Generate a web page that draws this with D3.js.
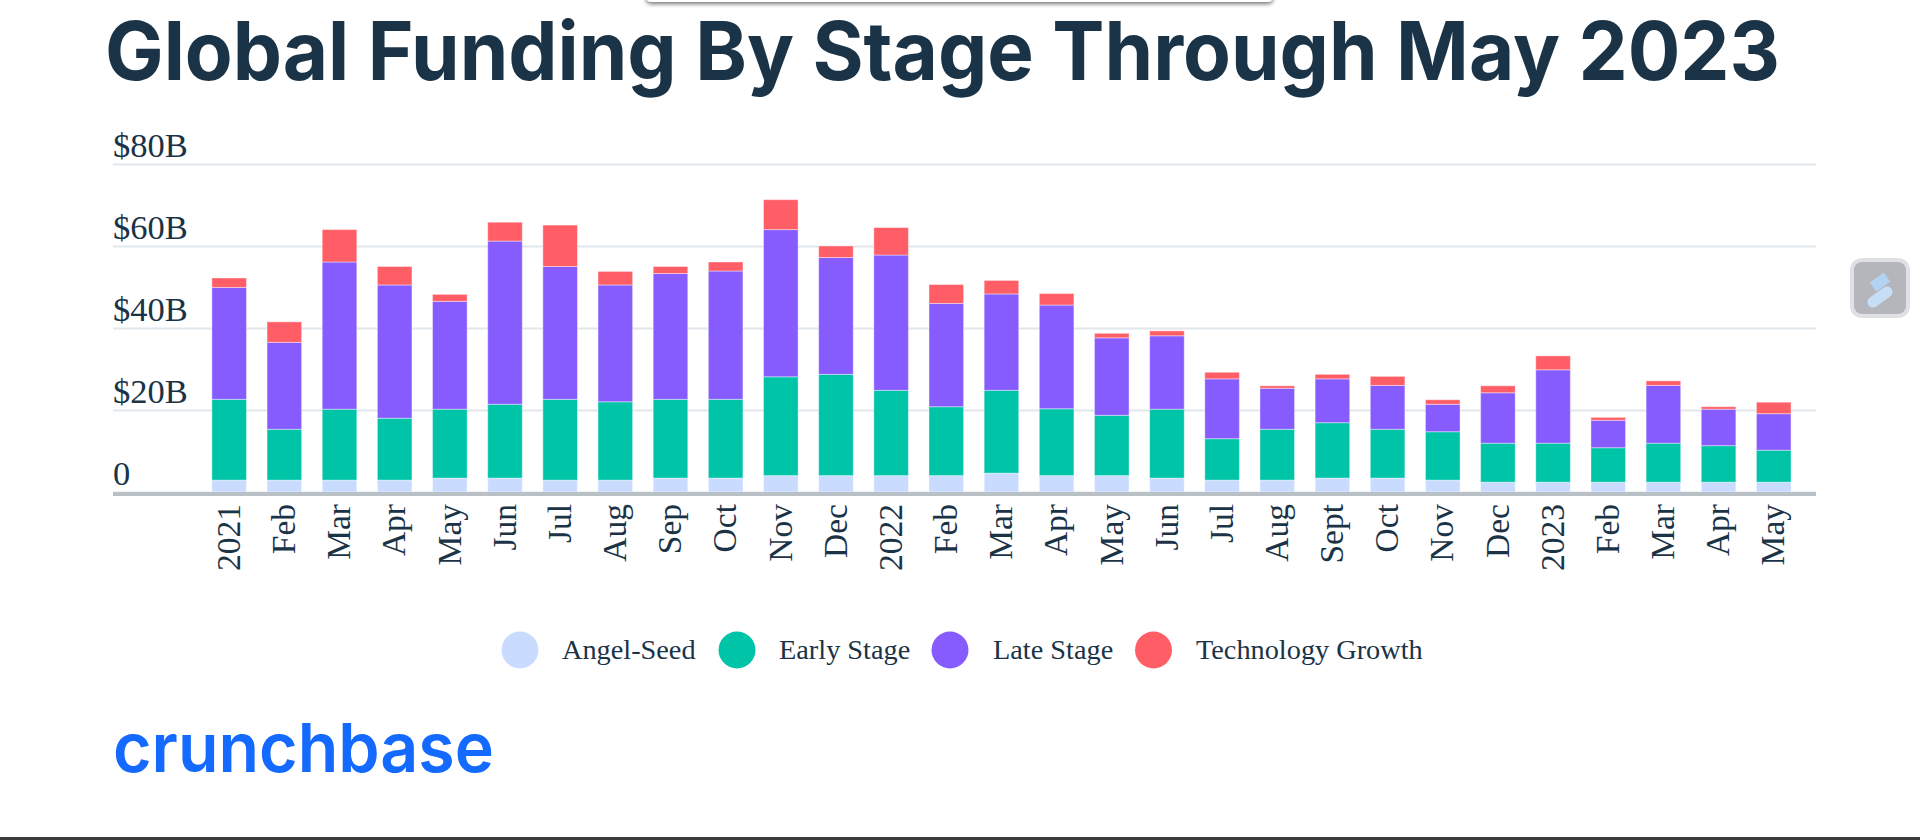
<!DOCTYPE html>
<html>
<head>
<meta charset="utf-8">
<script src="https://cdn.jsdelivr.net/npm/d3@7"></script>
<style>
  html, body { margin: 0; padding: 0; background: #fff; overflow: hidden; }
  svg { display: block; }
</style>
</head>
<body>
<div id="chart"></div>
<script>
// month labels, left to right
var months = ["2021","Feb","Mar","Apr","May","Jun","Jul","Aug","Sep","Oct","Nov","Dec",
  "2022","Feb","Mar","Apr","May","Jun","Jul","Aug","Sept","Oct","Nov","Dec",
  "2023","Feb","Mar","Apr","May"];

// funding per stage, $B
var angelSeed = [2.9,2.9,2.9,2.9,3.4,3.4,2.9,2.9,3.4,3.4,4.0,4.0,4.0,4.0,4.6,4.0,4.0,3.4,2.9,2.9,3.4,3.4,2.9,2.4,2.4,2.4,2.4,2.4,2.4];
var earlyStage = [19.7,12.4,17.3,15.1,16.8,18.0,19.7,19.1,19.2,19.2,24.1,24.7,20.8,16.8,20.2,16.3,14.7,16.8,10.1,12.4,13.5,11.9,11.8,9.5,9.5,8.4,9.5,8.9,7.8];
var lateStage = [27.3,21.2,35.9,32.5,26.3,39.8,32.4,28.5,30.7,31.3,35.9,28.5,33.0,25.2,23.5,25.3,18.9,17.9,14.6,10.0,10.7,10.7,6.7,12.3,17.9,6.7,14.1,8.9,8.9];
var techGrowth = [2.3,5.0,7.9,4.5,1.7,4.6,10.1,3.3,1.7,2.2,7.3,2.8,6.7,4.6,3.3,2.8,1.1,1.2,1.6,0.6,1.1,2.2,1.1,1.7,3.4,0.7,1.1,0.6,2.8];

var stages = ["Angel-Seed","Early Stage","Late Stage","Technology Growth"];
var stageColors = ["#c9dcff","#00c4a7","#865cff","#ff5e67"];
var yTicks = [0,20,40,60,80];

var ink = "#1a3346";
var serif = "'Liberation Serif', 'Times New Roman', serif";

var svg = d3.select("#chart")
  .append("svg")
    .attr("width", 1920)
    .attr("height", 840);

// drop shadow for the panel poking in at the top of the screenshot
var shadow = svg.append("defs").append("filter")
    .attr("id", "panelShadow")
    .attr("x", "-5%").attr("y", "-50%").attr("width", "110%").attr("height", "250%");
shadow.append("feDropShadow")
    .attr("dx", 0).attr("dy", 2).attr("stdDeviation", 2)
    .attr("flood-color", "#000").attr("flood-opacity", 0.55);

svg.append("rect")
    .attr("x", 646).attr("y", -12)
    .attr("width", 627).attr("height", 14)
    .attr("rx", 5)
    .attr("fill", "#fff")
    .attr("filter", "url(#panelShadow)");

// title
svg.append("text")
    .attr("x", 105)
    .attr("y", 80)
    .attr("textLength", 1675)
    .attr("lengthAdjust", "spacingAndGlyphs")
    .style("font-family", "Inter, sans-serif")
    .style("font-weight", 700)
    .style("font-size", "81px")
    .attr("fill", ink)
    .text("Global Funding By Stage Through May 2023");

// scales
var x = d3.scaleBand()
  .domain(d3.range(months.length))
  .range([201.6, 1801.3])
  .paddingInner(0.373)
  .paddingOuter(0.1865);

var y = d3.scaleLinear()
  .domain([0, 80])
  .range([492, 164]);

// y axis: grid lines across, labels sitting on top of them
var yAxis = svg.append("g")
    .attr("transform", "translate(113,0)")
    .call(d3.axisLeft(y)
      .tickValues(yTicks)
      .tickSize(-1703)
      .tickFormat(function(d) { return d === 0 ? "0" : "$" + d + "B"; }));
yAxis.select(".domain").remove();
yAxis.selectAll(".tick line")
    .attr("stroke", "#e2e7eb")
    .attr("stroke-width", 2);
yAxis.selectAll(".tick text")
    .attr("x", 0)
    .attr("dy", "-8")
    .attr("text-anchor", "start")
    .style("font-family", serif)
    .style("font-size", "34.5px")
    .attr("fill", ink);

// stacked bars
var table = months.map(function(m, i) {
  return {
    "Angel-Seed": angelSeed[i],
    "Early Stage": earlyStage[i],
    "Late Stage": lateStage[i],
    "Technology Growth": techGrowth[i]
  };
});
var series = d3.stack().keys(stages)(table);

svg.append("g")
  .selectAll("g")
  .data(series)
  .join("g")
    .attr("fill", function(d, i) { return stageColors[i]; })
  .selectAll("rect")
  .data(function(d) { return d; })
  .join("rect")
    .attr("x", function(d, i) { return x(i); })
    .attr("y", function(d) { return y(d[1]); })
    .attr("width", x.bandwidth())
    .attr("height", function(d) { return y(d[0]) - y(d[1]); })
    .attr("stroke", "#fff")
    .attr("stroke-opacity", 0.4)
    .attr("stroke-width", 1);

// x axis: thick base line, labels turned on their side
var xAxis = svg.append("g")
    .attr("transform", "translate(0,494)")
    .call(d3.axisBottom(x)
      .tickSize(0)
      .tickFormat(function(i) { return months[i]; }));
xAxis.select(".domain").remove();
xAxis.append("line")
    .attr("x1", 113)
    .attr("x2", 1816)
    .attr("stroke", "#b9c0c6")
    .attr("stroke-width", 4);
xAxis.selectAll(".tick text")
    .attr("transform", "rotate(-90)")
    .attr("x", -10)
    .attr("y", 0)
    .attr("dy", "0.32em")
    .attr("text-anchor", "end")
    .style("font-family", serif)
    .style("font-size", "33.5px")
    .attr("fill", ink);

// legend
var legendCircleX = [520, 737, 950, 1153.5];
var legendTextX = [562, 779, 993, 1196];

var legend = svg.append("g")
  .selectAll("g")
  .data(stages)
  .join("g");
legend.append("circle")
    .attr("cx", function(d, i) { return legendCircleX[i]; })
    .attr("cy", 650)
    .attr("r", 18.5)
    .attr("fill", function(d, i) { return stageColors[i]; });
legend.append("text")
    .attr("x", function(d, i) { return legendTextX[i]; })
    .attr("y", 659)
    .style("font-family", serif)
    .style("font-size", "28.3px")
    .attr("fill", ink)
    .text(function(d) { return d; });

// crunchbase wordmark
svg.append("text")
    .attr("x", 113)
    .attr("y", 772)
    .attr("textLength", 381)
    .attr("lengthAdjust", "spacingAndGlyphs")
    .style("font-family", "Inter, sans-serif")
    .style("font-weight", 600)
    .style("font-size", "68px")
    .attr("fill", "#146aff")
    .text("crunchbase");

// floating widget on the right edge of the screenshot
var widget = svg.append("g").attr("transform", "translate(1880,288)");
widget.append("rect")
    .attr("x", -30).attr("y", -30).attr("width", 60).attr("height", 60).attr("rx", 12)
    .attr("fill", "#e0e1e5");
widget.append("rect")
    .attr("x", -26).attr("y", -26).attr("width", 52).attr("height", 52).attr("rx", 8)
    .attr("fill", "#b5b6bc");
widget.append("line")
    .attr("x1", 7).attr("y1", -11).attr("x2", -7).attr("y2", -1)
    .attr("stroke", "#b4d3f2").attr("stroke-width", 11);
widget.append("line")
    .attr("x1", 7).attr("y1", 4).attr("x2", -7).attr("y2", 14)
    .attr("stroke", "#c7dff6").attr("stroke-width", 11).attr("stroke-linecap", "round");

// dark window edge along the bottom
svg.append("rect")
    .attr("x", 0).attr("y", 837)
    .attr("width", 1920).attr("height", 3)
    .attr("fill", "#3c3c3c");
</script>
</body>
</html>
